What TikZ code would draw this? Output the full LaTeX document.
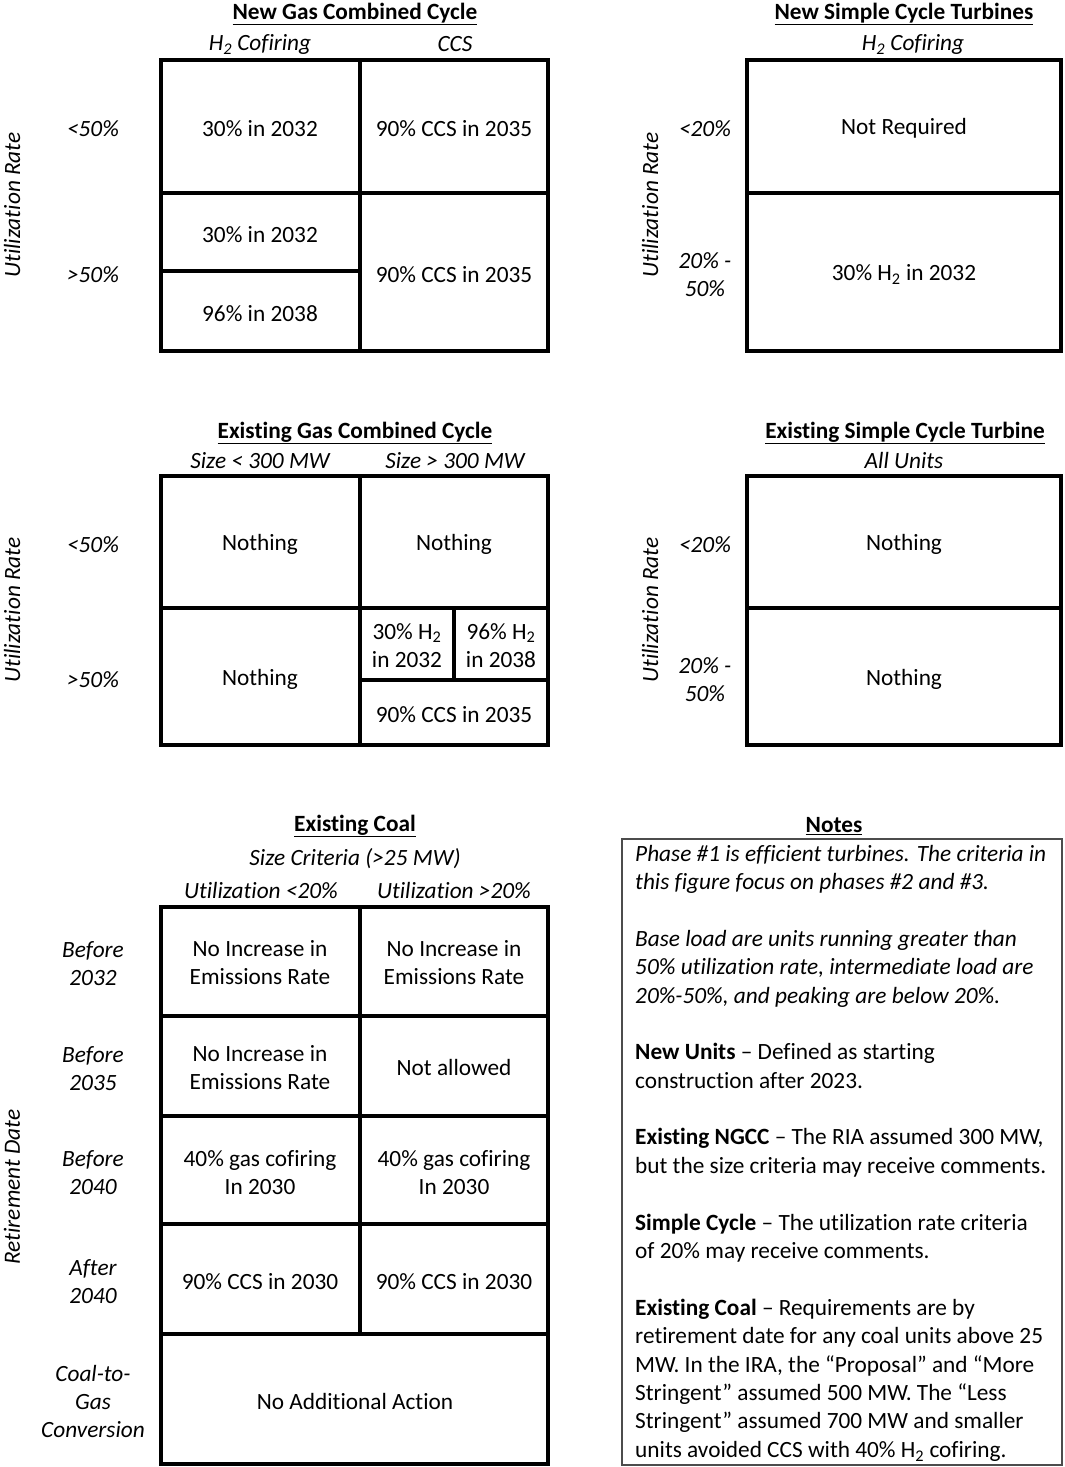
\documentclass[tikz,border=0pt]{standalone}
\usepackage{fontspec}
\setmainfont{Carlito}[Ligatures={TeX,NoCommon}]
\newcommand\cellfont{\fontsize{23.3}{28.4}\selectfont}
\newcommand\subtwo{\textsubscript{2}}
\tikzset{
  gridline/.style={line width=4pt, line cap=rect},
  notebox/.style={line width=1.5pt, draw=black!70},
  cell/.style={align=center, font=\cellfont, inner sep=0pt, yshift=-1.5pt},
  ttl/.style={font=\bfseries\cellfont, inner sep=0pt, yshift=-2pt},
  subhead/.style={font=\itshape\cellfont, inner sep=0pt, yshift=-1.5pt},
  rowlab/.style={align=center, font=\itshape\cellfont, inner sep=0pt, yshift=-1.5pt},
  axislab/.style={rotate=90, font=\itshape\cellfont, inner sep=0pt},
  noteline/.style={anchor=mid west, font=\cellfont, inner sep=0pt, yshift=-4pt},
}
\begin{document}
\begin{tikzpicture}[x=1pt,y=-1pt]
\useasboundingbox (0,0) rectangle (1065,1467);
\fill[white] (0,0) rectangle (1065,1467);

% ---------- Panel 1: New Gas Combined Cycle ----------
\node[ttl] (t1) at (355,12) {\underline{New Gas Combined Cycle}};
\node[subhead] (s1a) at (260,43) {H\subtwo{} Cofiring};
\node[subhead] (s1b) at (455,43) {CCS};
\node[axislab] (a1) at (12,205) {Utilization Rate};
\node[rowlab] (r1a) at (93,127) {<50\%};
\node[rowlab] (r1b) at (93,273) {>50\%};
\draw[gridline] (161,60) rectangle (548,351);
\draw[gridline] (360,60) -- (360,351);
\draw[gridline] (161,193) -- (548,193);
\draw[gridline] (161,271) -- (360,271);
\node[cell] (c1a) at (260,127) {30\% in 2032};
\node[cell] (c1b) at (454,127) {90\% CCS in 2035};
\node[cell] (c1c) at (260,233) {30\% in 2032};
\node[cell] (c1d) at (260,312) {96\% in 2038};
\node[cell] (c1e) at (454,273) {90\% CCS in 2035};

% ---------- Panel 2: New Simple Cycle Turbines ----------
\node[ttl] (t2) at (904,12) {\underline{New Simple Cycle Turbines}};
\node[subhead] (s2) at (913,43) {H\subtwo{} Cofiring};
\node[axislab] (a2) at (650,205) {Utilization Rate};
\node[rowlab] (r2a) at (705,127) {<20\%};
\node[rowlab] (r2b) at (705,273) {20\% -\\50\%};
\draw[gridline] (747,60) rectangle (1061,351);
\draw[gridline] (747,193) -- (1061,193);
\node[cell] (c2a) at (904,127) {Not Required};
\node[cell] (c2b) at (904,273) {30\% H\subtwo{} in 2032};

% ---------- Panel 3: Existing Gas Combined Cycle ----------
\node[ttl] (t3) at (355,431) {\underline{Existing Gas Combined Cycle}};
\node[subhead] (s3a) at (260,459) {Size < 300 MW};
\node[subhead] (s3b) at (455,459) {Size > 300 MW};
\node[axislab] (a3) at (12,610) {Utilization Rate};
\node[rowlab] (r3a) at (93,543) {<50\%};
\node[rowlab] (r3b) at (93,678) {>50\%};
\draw[gridline] (161,476) rectangle (548,745);
\draw[gridline] (360,476) -- (360,745);
\draw[gridline] (161,608) -- (548,608);
\draw[gridline] (454,608) -- (454,680);
\draw[gridline] (360,680) -- (548,680);
\node[cell] (c3a) at (260,543) {Nothing};
\node[cell] (c3b) at (454,543) {Nothing};
\node[cell] (c3c) at (260,678) {Nothing};
\node[cell] (c3d) at (407,644) {30\% H\subtwo\\in 2032};
\node[cell] (c3e) at (501,644) {96\% H\subtwo\\in 2038};
\node[cell] (c3f) at (454,713) {90\% CCS in 2035};

% ---------- Panel 4: Existing Simple Cycle Turbine ----------
\node[ttl] (t4) at (905,431) {\underline{Existing Simple Cycle Turbine}};
\node[subhead] (s4) at (904,459) {All Units};
\node[axislab] (a4) at (650,610) {Utilization Rate};
\node[rowlab] (r4a) at (705,543) {<20\%};
\node[rowlab] (r4b) at (705,678) {20\% -\\50\%};
\draw[gridline] (747,476) rectangle (1061,745);
\draw[gridline] (747,608) -- (1061,608);
\node[cell] (c4a) at (904,543) {Nothing};
\node[cell] (c4b) at (904,678) {Nothing};

% ---------- Panel 5: Existing Coal ----------
\node[ttl] (t5) at (355,824) {\underline{Existing Coal}};
\node[subhead] (s5) at (355,857) {Size Criteria (>25 MW)};
\node[subhead] (s5a) at (261,889) {Utilization <20\%};
\node[subhead] (s5b) at (454,889) {Utilization >20\%};
\node[axislab] (a5) at (12,1187) {Retirement Date};
\node[rowlab] (r5a) at (93,962) {Before\\2032};
\node[rowlab] (r5b) at (93,1067) {Before\\2035};
\node[rowlab] (r5c) at (93,1171) {Before\\2040};
\node[rowlab] (r5d) at (93,1280) {After\\2040};
\node[rowlab] (r5e) at (93,1400) {Coal-to-\\Gas\\Conversion};
\draw[gridline] (161,907) rectangle (548,1464);
\draw[gridline] (360,907) -- (360,1334);
\draw[gridline] (161,1016) -- (548,1016);
\draw[gridline] (161,1116) -- (548,1116);
\draw[gridline] (161,1224) -- (548,1224);
\draw[gridline] (161,1334) -- (548,1334);
\node[cell] (c5a) at (260,961) {No Increase in\\Emissions Rate};
\node[cell] (c5b) at (454,961) {No Increase in\\Emissions Rate};
\node[cell] (c5c) at (260,1066) {No Increase in\\Emissions Rate};
\node[cell] (c5d) at (454,1066) {Not allowed};
\node[cell] (c5e) at (260,1171) {40\% gas cofiring\\In 2030};
\node[cell] (c5f) at (454,1171) {40\% gas cofiring\\In 2030};
\node[cell] (c5g) at (260,1280) {90\% CCS in 2030};
\node[cell] (c5h) at (454,1280) {90\% CCS in 2030};
\node[cell] (c5i) at (355,1400) {No Additional Action};

% ---------- Notes ----------
\node[ttl] (t6) at (834,824) {\underline{Notes}};
\draw[notebox] (622,839) rectangle (1062,1465);
\node[noteline] (n1) at (635,855) {\itshape Phase \#1 is efficient turbines. The criteria in};
\node[noteline] (n2) at (635,883) {\itshape this figure focus on phases \#2 and \#3.};
\node[noteline] (n3) at (635,940) {\itshape Base load are units running greater than};
\node[noteline] (n4) at (635,968) {\itshape 50\% utilization rate, intermediate load are};
\node[noteline] (n5) at (635,997) {\itshape 20\%-50\%, and peaking are below 20\%.};
\node[noteline] (n6) at (635,1053) {\textbf{New Units} -- Defined as starting};
\node[noteline] (n7) at (635,1082) {construction after 2023.};
\node[noteline] (n8) at (635,1138) {\textbf{Existing NGCC} -- The RIA assumed 300 MW,};
\node[noteline] (n9) at (635,1167) {but the size criteria may receive comments.};
\node[noteline] (n10) at (635,1224) {\textbf{Simple Cycle} -- The utilization rate criteria};
\node[noteline] (n11) at (635,1252) {of 20\% may receive comments.};
\node[noteline] (n12) at (635,1309) {\textbf{Existing Coal} -- Requirements are by};
\node[noteline] (n13) at (635,1337) {retirement date for any coal units above 25};
\node[noteline] (n14) at (635,1366) {MW. In the IRA, the “Proposal” and “More};
\node[noteline] (n15) at (635,1394) {Stringent” assumed 500 MW. The “Less};
\node[noteline] (n16) at (635,1422) {Stringent” assumed 700 MW and smaller};
\node[noteline] (n17) at (635,1451) {units avoided CCS with 40\% H\subtwo{} cofiring.};
\end{tikzpicture}
\end{document}
